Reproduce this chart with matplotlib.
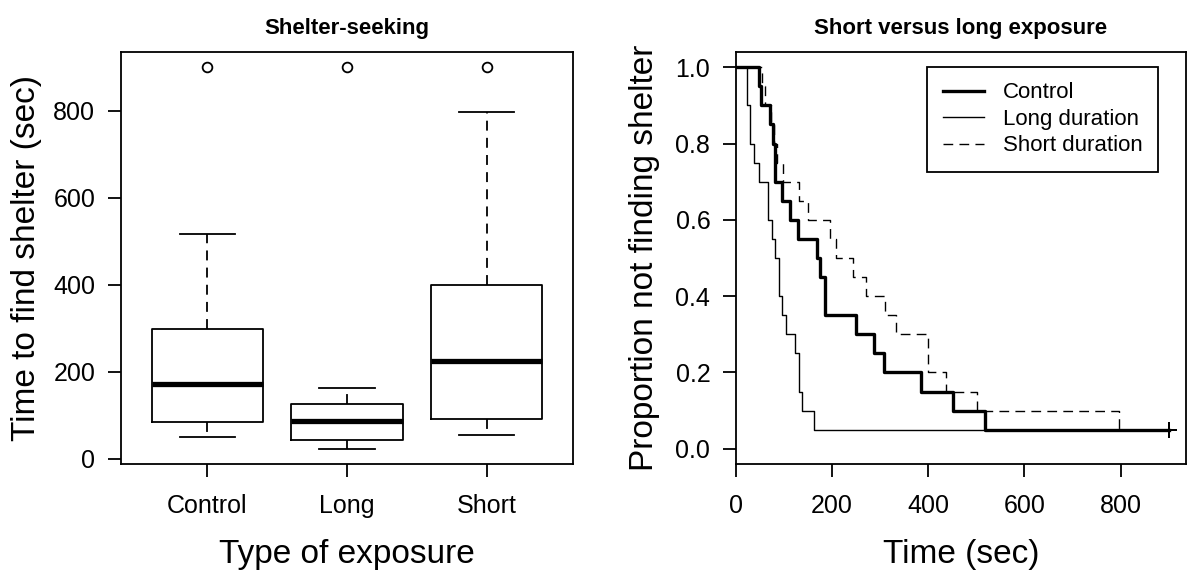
import numpy as np
import matplotlib
matplotlib.use("Agg")
import matplotlib.pyplot as plt
from matplotlib.lines import Line2D

plt.rcParams["font.family"] = ["Liberation Sans", "DejaVu Sans"]

# ── Box plot summary ──────────────────────────────────────────────
groups    = ["Control", "Long", "Short"]
whisk_lo  = [49, 23, 54]
q1        = [85, 44, 92]
medians   = [173, 86, 225]
q3        = [299, 126, 400]
whisk_hi  = [516, 162, 796]
outliers  = [[900], [900], [900]]

# ── Time to shelter per animal (seconds), 900 = censored ─────────
control_times = [48, 53, 70, 76, 81, 81, 95, 113, 129, 169, 174, 185, 185,
                 250, 288, 308, 385, 451, 517, 900]
long_times    = [23, 23, 29, 29, 37, 47, 67, 67, 75, 82, 90, 90, 95, 104,
                 122, 131, 131, 137, 162, 900]
short_times   = [54, 60, 72, 78, 86, 98, 131, 150, 195, 209, 243, 270, 310,
                 333, 399, 399, 437, 501, 797, 900]
CENSOR_AT = 900


def km_curve(times, censor_at=CENSOR_AT):
    """Kaplan-Meier step coordinates (post steps) starting at t=0."""
    t = np.sort(np.asarray(times, dtype=float))
    event = t < censor_at
    n_risk = len(t)
    xs, ys = [0.0], [1.0]
    s = 1.0
    for u in np.unique(t):
        d = np.sum((t == u) & event)
        c = np.sum((t == u) & ~event)
        if d:
            s *= 1 - d / n_risk
        xs.append(u)
        ys.append(s)
        n_risk -= d + c
    return np.array(xs), np.array(ys)


# ── Figure ────────────────────────────────────────────────────────
W, H = 1187, 572
fig = plt.figure(figsize=(W / 100, H / 100), dpi=100, facecolor="white")
ax1 = fig.add_axes([121 / W, 1 - 464 / H, 452 / W, 412 / H])
ax2 = fig.add_axes([736 / W, 1 - 464 / H, 450 / W, 412 / H])

LW = 1.3
TICK_FS = 18
LABEL_FS = 24
TITLE_FS = 16

# left: boxplot
stats = []
for i, g in enumerate(groups):
    stats.append(dict(label=g, whislo=whisk_lo[i], q1=q1[i], med=medians[i],
                      q3=q3[i], whishi=whisk_hi[i], fliers=outliers[i]))
ax1.bxp(stats, positions=[1, 2, 3], widths=0.8, capwidths=0.4,
        boxprops=dict(color="black", lw=LW),
        whiskerprops=dict(color="black", lw=LW, linestyle=(0, (5.5, 4))),
        capprops=dict(color="black", lw=LW),
        medianprops=dict(color="black", lw=3.8, solid_capstyle="butt"),
        flierprops=dict(marker="o", markersize=7, markerfacecolor="none",
                        markeredgecolor="black", markeredgewidth=1.3))
ax1.set_xlim(0.38, 3.62)
ax1.set_ylim(-12, 935)
ax1.set_yticks([0, 200, 400, 600, 800])
ax1.set_xticks([1, 2, 3])
ax1.set_xticklabels(groups)
ax1.set_title("Shelter-seeking", fontsize=TITLE_FS, fontweight="bold", pad=13)
ax1.set_xlabel("Type of exposure", fontsize=LABEL_FS)
ax1.set_ylabel("Time to find shelter (sec)", fontsize=LABEL_FS)
ax1.xaxis.set_label_coords(0.5, -0.182)
ax1.yaxis.set_label_coords(-0.175, 0.5)

# right: survival curves
styles = [
    ("Control", control_times, dict(lw=2.4, ls="-")),
    ("Long duration", long_times, dict(lw=1.0, ls="-")),
    ("Short duration", short_times, dict(lw=1.0, ls=(0, (7, 4.5)))),
]
handles = []
for name, times, st in styles:
    xs, ys = km_curve(times)
    ax2.step(xs, ys, where="post", color="black", **st)
    ax2.plot([CENSOR_AT], [ys[-1]], marker="+", color="black",
             markersize=11, markeredgewidth=1.4, ls="none")
    handles.append(Line2D([], [], color="black", **st))

ax2.legend(handles, [s[0] for s in styles], loc="upper right",
           bbox_to_anchor=(0.938, 0.964), fontsize=16, frameon=True,
           fancybox=False, edgecolor="black", framealpha=1,
           handlelength=1.85, handletextpad=0.85, labelspacing=0.25,
           borderpad=0.7, borderaxespad=0)
ax2.get_legend().get_frame().set_linewidth(LW)

ax2.set_xlim(0, 936)
ax2.set_ylim(-0.04, 1.04)
ax2.set_xticks([0, 200, 400, 600, 800])
ax2.set_yticks([0.0, 0.2, 0.4, 0.6, 0.8, 1.0])
ax2.set_yticklabels([f"{v:.1f}" for v in ax2.get_yticks()])
ax2.set_title("Short versus long exposure", fontsize=TITLE_FS,
              fontweight="bold", pad=13)
ax2.set_xlabel("Time (sec)", fontsize=LABEL_FS)
ax2.set_ylabel("Proportion not finding shelter", fontsize=LABEL_FS)
ax2.xaxis.set_label_coords(0.5, -0.182)
ax2.yaxis.set_label_coords(-0.168, 0.5)

for ax in (ax1, ax2):
    for sp in ax.spines.values():
        sp.set_linewidth(LW)
    ax.tick_params(direction="out", length=9.5, width=LW, labelsize=TICK_FS,
                   color="black")
    ax.tick_params(axis="x", pad=12)
    ax.tick_params(axis="y", pad=9)

fig.savefig("out.png", dpi=100, facecolor=fig.get_facecolor())
plt.close(fig)
